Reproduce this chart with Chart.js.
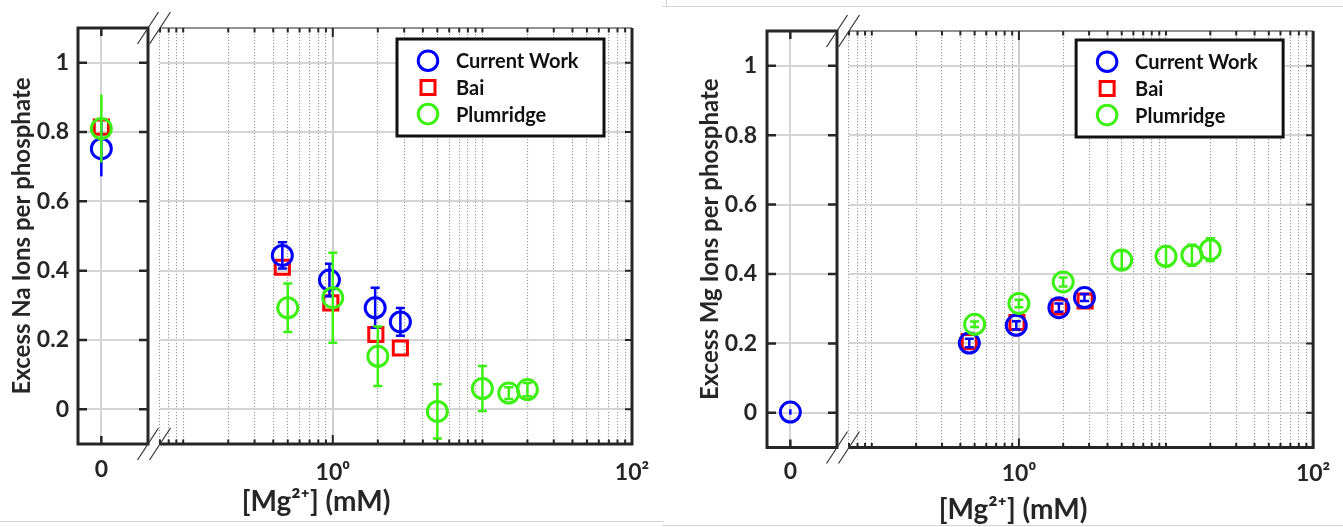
<!DOCTYPE html>
<html>
<head>
<meta charset="utf-8">
<title>Excess ions per phosphate</title>
<script src="https://cdn.jsdelivr.net/npm/chart.js@4.4.0/dist/chart.umd.min.js"></script>
<style>
  body { margin: 0; background: #fff; }
  #wrap { position: relative; width: 1343px; height: 527px; overflow: hidden; background: #fff; }
  #wrap canvas { position: absolute; top: 0; }
  .rule { position: absolute; background: #d4d4d4; }
</style>
</head>
<body>
<div id="wrap">
  <canvas id="naZero" width="165" height="527" style="left:0px"></canvas>
  <canvas id="naMain" width="665" height="527" style="left:0px"></canvas>
  <canvas id="mgZero" width="165" height="527" style="left:688px"></canvas>
  <canvas id="mgMain" width="639" height="527" style="left:704px"></canvas>
  <div class="rule" style="left:0;top:521px;width:664px;height:1px"></div>
  <div class="rule" style="left:662px;top:6px;width:681px;height:1px"></div>
  <div class="rule" style="left:666px;top:0;width:1px;height:7px"></div>
  <div class="rule" style="left:662px;top:525px;width:681px;height:1px"></div>
</div>
<script>
const FONT = 'Lato, "DejaVu Sans", sans-serif';
const AXIS_COLOR = '#262626';

const seriesNames = ['Current Work', 'Bai', 'Plumridge'];
const seriesColors = ['#0000ff', '#ff0000', '#3cf012'];
const seriesShapes = ['circle', 'rect', 'circle'];

const yTickValues = [0, 0.2, 0.4, 0.6, 0.8, 1];
const zeroTickValues = [0];
const logLabelValues = [1, 100];
const logLabelTexts = ['10⁰', '10²'];
const logGridValues = [0.07, 0.08, 0.09, 0.1, 0.2, 0.3, 0.4, 0.5, 0.6, 0.7, 0.8, 0.9,
  1, 2, 3, 4, 5, 6, 7, 8, 9, 10, 20, 30, 40, 50, 60, 70, 80, 90, 100];
const xTitle = '[Mg²⁺] (mM)';

// excess Na per phosphate
const naCurrentX = [0, 0.46, 0.95, 1.92, 2.83];
const naCurrentY = [0.752, 0.444, 0.373, 0.293, 0.252];
const naCurrentErr = [0.08, 0.038, 0.047, 0.058, 0.04];
const naBaiX = [0, 0.46, 0.97, 1.94, 2.83];
const naBaiY = [0.814, 0.41, 0.307, 0.216, 0.177];
const naPlumX = [0, 0.5, 1, 2, 5, 10, 15, 20];
const naPlumY = [0.81, 0.293, 0.322, 0.153, -0.006, 0.06, 0.047, 0.057];
const naPlumErr = [0.098, 0.07, 0.13, 0.086, 0.078, 0.065, 0.017, 0.019];

// excess Mg per phosphate
const mgCurrentX = [0, 0.46, 0.96, 1.87, 2.79];
const mgCurrentY = [0.002, 0.201, 0.252, 0.303, 0.332];
const mgCurrentErr = [0.008, 0.012, 0.012, 0.012, 0.01];
const mgBaiX = [0.46, 0.97, 1.88, 2.82];
const mgBaiY = [0.205, 0.26, 0.305, 0.322];
const mgPlumX = [0.5, 1, 2, 5, 10, 15, 20];
const mgPlumY = [0.255, 0.315, 0.377, 0.44, 0.451, 0.454, 0.47];
const mgPlumErr = [0.008, 0.011, 0.013, 0.026, 0.029, 0.03, 0.033];

const tickFont = { family: FONT, size: 23, weight: 'bold' };

function points(xs, ys, errs, keep) {
  const out = [];
  xs.forEach((x, i) => {
    if (keep(x)) out.push({ x: x, y: ys[i], e: errs ? errs[i] : 0 });
  });
  return out;
}

function series(i, data, hasErr) {
  return {
    label: seriesNames[i],
    data: data,
    pointStyle: seriesShapes[i],
    pointRadius: 10,
    pointHoverRadius: 10,
    pointBorderWidth: 3,
    borderColor: seriesColors[i],
    pointBackgroundColor: 'rgba(0,0,0,0)',
    showLine: false,
    order: [1, 2, 0][i],
    hasErr: hasErr
  };
}

function buildDatasets(p, keep) {
  return [
    series(0, points(p.cx, p.cy, p.ce, keep), true),
    series(1, points(p.bx, p.by, null, keep), false),
    series(2, points(p.px, p.py, p.pe, keep), true)
  ].filter(d => d.data.length);
}

// vertical error bars, drawn under the hollow markers
const errorBars = {
  id: 'errorBars',
  beforeDatasetDraw(chart, args, opts) {
    const ds = chart.data.datasets[args.index];
    if (!ds.hasErr) return;
    const { ctx, chartArea: a } = chart;
    const yScale = chart.scales.y;
    ctx.save();
    ctx.beginPath();
    ctx.rect(a.left, a.top, a.width, a.height);
    ctx.clip();
    ctx.strokeStyle = ds.borderColor;
    ctx.lineWidth = 2.5;
    args.meta.data.forEach((pt, i) => {
      const d = ds.data[i];
      const y1 = yScale.getPixelForValue(d.y + d.e);
      const y2 = yScale.getPixelForValue(d.y - d.e);
      ctx.beginPath();
      ctx.moveTo(pt.x, y1);
      ctx.lineTo(pt.x, y2);
      if (opts.cap) {
        ctx.moveTo(pt.x - opts.cap, y1); ctx.lineTo(pt.x + opts.cap, y1);
        ctx.moveTo(pt.x - opts.cap, y2); ctx.lineTo(pt.x + opts.cap, y2);
      }
      ctx.stroke();
    });
    ctx.restore();
  }
};

function breakMarks(ctx, x, a) {
  ctx.save();
  ctx.strokeStyle = '#333';
  ctx.lineWidth = 1.2;
  ctx.beginPath();
  [a.top, a.bottom].forEach(y => {
    ctx.moveTo(x - 10.5, y + 16);
    ctx.lineTo(x + 10.5, y - 16);
  });
  ctx.stroke();
  ctx.restore();
}

// matlab style box with inward ticks and axis-break marks
const axesBox = {
  id: 'axesBox',
  afterDraw(chart, args, opts) {
    const { ctx, chartArea: a, scales } = chart;
    const yPix = yTickValues.map(v => scales.y.getPixelForValue(v));
    ctx.save();
    ctx.strokeStyle = AXIS_COLOR;
    if (opts.kind === 'zero') {
      ctx.lineWidth = 3;
      ctx.strokeRect(a.left, a.top, a.width, a.height);
      ctx.lineWidth = 2.5;
      ctx.beginPath();
      yPix.forEach(y => {
        ctx.moveTo(a.left, y); ctx.lineTo(a.left + 9, y);
        ctx.moveTo(a.right - 9, y); ctx.lineTo(a.right, y);
      });
      zeroTickValues.forEach(v => {
        const x = scales.x.getPixelForValue(v);
        ctx.moveTo(x, a.bottom); ctx.lineTo(x, a.bottom - 8);
        ctx.moveTo(x, a.top); ctx.lineTo(x, a.top + 8);
      });
      ctx.stroke();
      breakMarks(ctx, a.right, a);
    } else {
      ctx.lineWidth = 3;
      ctx.beginPath();
      ctx.moveTo(a.left, a.bottom);
      ctx.lineTo(a.right, a.bottom);
      ctx.lineTo(a.right, a.top);
      ctx.stroke();
      ctx.lineWidth = 1.2;
      ctx.beginPath();
      ctx.moveTo(a.left, a.top);
      ctx.lineTo(a.right, a.top);
      ctx.stroke();
      ctx.lineWidth = 2;
      ctx.beginPath();
      logGridValues.forEach(v => {
        const x = scales.x.getPixelForValue(v);
        const len = logLabelValues.includes(v) ? 9 : 4.5;
        ctx.moveTo(x, a.bottom); ctx.lineTo(x, a.bottom - len);
        ctx.moveTo(x, a.top); ctx.lineTo(x, a.top + len);
      });
      yPix.forEach(y => { ctx.moveTo(a.right - 7, y); ctx.lineTo(a.right, y); });
      ctx.stroke();
      breakMarks(ctx, a.left, a);
    }
    ctx.restore();
  }
};

// legend in a boxed frame at the top right of the plot
const boxedLegend = {
  id: 'boxedLegend',
  afterDatasetsDraw(chart, args, opts) {
    if (!opts.show) return;
    const { ctx, chartArea: a } = chart;
    const w = 207, h = 97;
    const x0 = a.right - opts.right - w, y0 = a.top + opts.top;
    ctx.save();
    ctx.fillStyle = '#fff';
    ctx.fillRect(x0, y0, w, h);
    ctx.lineWidth = 3;
    ctx.strokeStyle = '#111';
    ctx.strokeRect(x0, y0, w, h);
    chart.data.datasets.forEach((ds, i) => {
      const cy = y0 + 21.7 + i * 26.7;
      const cx = x0 + 31;
      ctx.strokeStyle = ds.borderColor;
      ctx.lineWidth = 3;
      ctx.beginPath();
      if (ds.pointStyle === 'rect') ctx.rect(cx - 7, cy - 7, 14, 14);
      else ctx.arc(cx, cy, 9.8, 0, Math.PI * 2);
      ctx.stroke();
      ctx.fillStyle = '#111';
      ctx.font = 'bold 20px ' + FONT;
      ctx.textAlign = 'left';
      ctx.textBaseline = 'middle';
      ctx.fillText(ds.label, x0 + 59, cy + 1);
    });
    ctx.restore();
  }
};

function zeroChart(id, yTitle, datasets, lay) {
  return new Chart(document.getElementById(id), {
    type: 'scatter',
    data: { datasets: datasets },
    options: {
      responsive: false,
      animation: false,
      events: [],
      layout: { padding: { left: 0, right: lay.right, top: lay.top, bottom: 0 } },
      plugins: {
        legend: { display: false },
        tooltip: { enabled: false },
        errorBars: { cap: 0 },
        axesBox: { kind: 'zero' }
      },
      scales: {
        x: {
          type: 'linear', min: -1, max: 2,
          afterBuildTicks: s => { s.ticks = zeroTickValues.map(v => ({ value: v })); },
          afterFit: s => { s.height = lay.xHeight; },
          ticks: { callback: v => String(v), padding: lay.xPad, font: tickFont, color: AXIS_COLOR, autoSkip: false, maxRotation: 0 },
          grid: { color: '#d4d4d4', lineWidth: 2, drawTicks: false },
          border: { display: false }
        },
        y: {
          min: -0.1, max: 1.1,
          afterBuildTicks: s => { s.ticks = yTickValues.map(v => ({ value: v })); },
          afterFit: s => { s.width = lay.yWidth; },
          ticks: { callback: v => String(v), padding: lay.yPad, font: tickFont, color: AXIS_COLOR },
          grid: { color: '#d4d4d4', lineWidth: 2, drawTicks: false },
          border: { display: false },
          title: {
            display: true, text: yTitle, color: AXIS_COLOR,
            font: { family: FONT, size: 24, weight: 'bold' },
            padding: { top: 7.6, bottom: 0 }
          }
        }
      }
    },
    plugins: [errorBars, axesBox]
  });
}

function isMajor(c) {
  return c.tick && logLabelValues.includes(c.tick.value);
}

function logChart(id, datasets, lay) {
  return new Chart(document.getElementById(id), {
    type: 'scatter',
    data: { datasets: datasets },
    options: {
      responsive: false,
      animation: false,
      events: [],
      layout: { padding: { left: 0, right: lay.right, top: lay.top, bottom: 0 } },
      plugins: {
        legend: { display: false },
        tooltip: { enabled: false },
        title: {
          display: true, position: 'bottom', text: xTitle, color: AXIS_COLOR,
          font: { family: FONT, size: 28, weight: 'bold', lineHeight: 1 },
          padding: { top: 0, bottom: lay.titleBottom }
        },
        errorBars: { cap: 4.5 },
        axesBox: { kind: 'log' },
        boxedLegend: { show: true, right: lay.legendRight, top: lay.legendTop }
      },
      scales: {
        x: {
          type: 'logarithmic', min: 0.07, max: 100,
          afterBuildTicks: s => { s.ticks = logGridValues.map(v => ({ value: v })); },
          afterFit: s => { s.height = lay.xHeight; },
          ticks: {
            autoSkip: false, maxRotation: 0, padding: lay.xPad, font: tickFont, color: AXIS_COLOR,
            callback: v => {
              const i = logLabelValues.indexOf(v);
              return i < 0 ? '' : logLabelTexts[i];
            }
          },
          grid: {
            drawTicks: false,
            color: c => isMajor(c) ? '#cfcfcf' : '#9c9c9c',
            lineWidth: c => isMajor(c) ? 2 : 1.1
          },
          border: { display: false, dash: c => isMajor(c) ? [] : [1.2, 1.8] }
        },
        y: {
          min: -0.1, max: 1.1,
          afterBuildTicks: s => { s.ticks = yTickValues.map(v => ({ value: v })); },
          afterFit: s => { s.width = lay.yWidth; },
          ticks: { display: false },
          grid: { color: '#d4d4d4', lineWidth: 2, drawTicks: false },
          border: { display: false }
        }
      }
    },
    plugins: [errorBars, axesBox, boxedLegend]
  });
}

const naPanel = { cx: naCurrentX, cy: naCurrentY, ce: naCurrentErr, bx: naBaiX, by: naBaiY, px: naPlumX, py: naPlumY, pe: naPlumErr };
const mgPanel = { cx: mgCurrentX, cy: mgCurrentY, ce: mgCurrentErr, bx: mgBaiX, by: mgBaiY, px: mgPlumX, py: mgPlumY, pe: mgPlumErr };

const atZero = x => x === 0;
const aboveZero = x => x > 0;

zeroChart('naZero', 'Excess Na Ions per phosphate', buildDatasets(naPanel, atZero),
  { right: 17, top: 28, xHeight: 83, xPad: 12.2, yWidth: 78, yPad: 9 });
logChart('naMain', buildDatasets(naPanel, aboveZero),
  { right: 33, top: 28, xHeight: 44, xPad: 15.2, yWidth: 160, titleBottom: 11, legendRight: 28, legendTop: 11 });
zeroChart('mgZero', 'Excess Mg Ions per phosphate', buildDatasets(mgPanel, atZero),
  { right: 16, top: 31, xHeight: 79.5, xPad: 10.7, yWidth: 79, yPad: 10 });
logChart('mgMain', buildDatasets(mgPanel, aboveZero),
  { right: 21, top: 31, xHeight: 48.5, xPad: 12.7, yWidth: 145, titleBottom: 3, legendRight: 30, legendTop: 9 });
</script>
</body>
</html>
